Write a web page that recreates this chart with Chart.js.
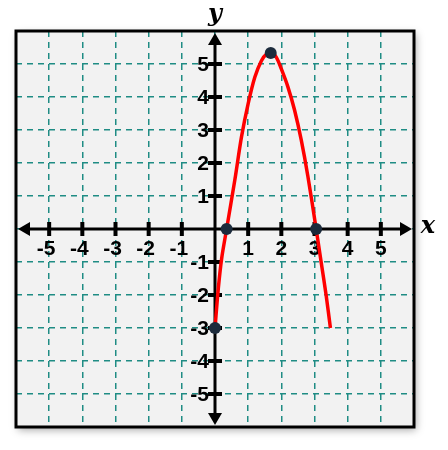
<!DOCTYPE html>
<html>
<head>
<meta charset="utf-8">
<script src="https://cdn.jsdelivr.net/npm/chart.js@4.4.0/dist/chart.umd.min.js"></script>
<style>
  html, body { margin: 0; padding: 0; background: #fff; }
  #wrap { width: 448px; height: 450px; }
</style>
</head>
<body>
<div id="wrap"><canvas id="graph" width="448" height="450"></canvas></div>
<script>
// values
var curveX = [0, 0.1, 0.2, 0.35, 0.6, 0.8, 1.0, 1.2, 1.4, 1.55, 1.7, 1.85, 2.0, 2.2, 2.4, 2.6, 2.8, 3.05, 3.2, 3.35, 3.48];
var curveY = [-3, -1.8, -0.9, 0, 1.5, 2.8, 3.8, 4.6, 5.1, 5.3, 5.35, 5.2, 4.85, 4.3, 3.6, 2.7, 1.6, 0, -1.0, -2.0, -3];
var markX = [0, 0.35, 1.68, 3.05];
var markY = [-3, 0, 5.33, 0];
var tickValues = [-5, -4, -3, -2, -1, 1, 2, 3, 4, 5];

var curve = curveX.map(function (x, i) { return {x: x, y: curveY[i]}; });
var marks = markX.map(function (x, i) { return {x: x, y: markY[i]}; });

var axesPlugin = {
	id: 'axesPlugin',
	beforeDraw: function (chart) {
		var ctx = chart.ctx, a = chart.chartArea;
		ctx.save();
		ctx.shadowColor = 'rgba(0,0,0,0.35)';
		ctx.shadowBlur = 8;
		ctx.shadowOffsetX = 2;
		ctx.shadowOffsetY = 3;
		ctx.fillStyle = '#f2f2f2';
		ctx.fillRect(a.left, a.top, a.right - a.left, a.bottom - a.top);
		ctx.restore();
	},
	beforeDatasetsDraw: function (chart) {
		var ctx = chart.ctx, a = chart.chartArea;
		var xs = chart.scales.x, ys = chart.scales.y;
		var x0 = xs.getPixelForValue(0), y0 = ys.getPixelForValue(0);
		ctx.save();
		ctx.strokeStyle = '#000';
		ctx.fillStyle = '#000';
		ctx.lineWidth = 3;
		ctx.beginPath();
		ctx.moveTo(a.left + 8, y0); ctx.lineTo(a.right - 8, y0);
		ctx.moveTo(x0, a.top + 8); ctx.lineTo(x0, a.bottom - 8);
		ctx.stroke();
		// arrow heads
		function head(px, py, dx, dy) {
			ctx.beginPath();
			ctx.moveTo(px, py);
			ctx.lineTo(px - dx * 12 - dy * 7, py - dy * 12 - dx * 7);
			ctx.lineTo(px - dx * 12 + dy * 7, py - dy * 12 + dx * 7);
			ctx.closePath();
			ctx.fill();
		}
		head(a.right - 2, y0, 1, 0);
		head(a.left + 2, y0, -1, 0);
		head(x0, a.top + 2, 0, -1);
		head(x0, a.bottom - 2, 0, 1);
		// ticks and labels
		ctx.lineWidth = 4;
		ctx.font = 'bold 21px "Liberation Sans", Arial, sans-serif';
		tickValues.forEach(function (v) {
			var px = xs.getPixelForValue(v), py = ys.getPixelForValue(v);
			ctx.beginPath();
			ctx.moveTo(px, y0 - 7); ctx.lineTo(px, y0 + 7);
			ctx.moveTo(x0 - 7, py); ctx.lineTo(x0 + 7, py);
			ctx.stroke();
			ctx.textAlign = 'center';
			ctx.textBaseline = 'top';
			ctx.fillText(String(v), px - (v < 0 ? 3 : 0), y0 + 10);
			ctx.textAlign = 'right';
			ctx.textBaseline = 'middle';
			ctx.fillText(String(v), x0 - 6, py + 1);
		});
		ctx.font = 'italic bold 24px "DejaVu Serif", "Liberation Serif", serif';
		ctx.textAlign = 'center';
		ctx.textBaseline = 'middle';
		ctx.fillText('y', x0, a.top - 16);
		ctx.fillText('x', a.right + 14, y0 - 2);
		ctx.restore();
	},
	afterDraw: function (chart) {
		var ctx = chart.ctx, a = chart.chartArea;
		ctx.save();
		ctx.strokeStyle = '#000';
		ctx.lineWidth = 3;
		ctx.strokeRect(a.left, a.top, a.right - a.left, a.bottom - a.top);
		ctx.restore();
	}
};

new Chart('graph', {
	type: 'scatter',
	data: {
		datasets: [
			{
				data: marks,
				showLine: false,
				pointRadius: 6,
				pointBackgroundColor: '#1c2b3c',
				pointBorderWidth: 0
			},
			{
				data: curve,
				showLine: true,
				borderColor: '#ff0000',
				borderWidth: 3.5,
				tension: 0.3,
				pointRadius: 0
			}
		]
	},
	plugins: [axesPlugin],
	options: {
		responsive: false,
		animation: false,
		layout: { padding: { left: 16, right: 34, top: 31, bottom: 23 } },
		plugins: { legend: { display: false }, tooltip: { enabled: false } },
		scales: {
			x: {
				type: 'linear', min: -6, max: 6,
				ticks: { display: false, stepSize: 1 },
				border: { display: false, dash: [6, 5] },
				grid: { color: '#1f8c84', lineWidth: 1.5, drawTicks: false }
			},
			y: {
				type: 'linear', min: -6, max: 6,
				ticks: { display: false, stepSize: 1 },
				border: { display: false, dash: [6, 5] },
				grid: { color: '#1f8c84', lineWidth: 1.5, drawTicks: false }
			}
		}
	}
});
</script>
</body>
</html>
